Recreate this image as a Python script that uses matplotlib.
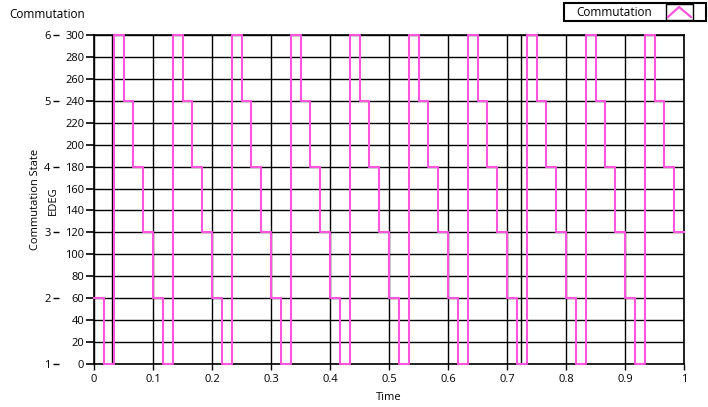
import matplotlib
matplotlib.use('Agg')
import matplotlib.pyplot as plt
from matplotlib.patches import Rectangle
from matplotlib.lines import Line2D
import numpy as np

# Commutation trace (EDEG), one value per step, dt = 1/60 s
dt = 1.0 / 60.0
edeg = [60, 0, 300, 240, 180, 120,
        60, 0, 300, 240, 180, 120,
        60, 0, 300, 240, 180, 120,
        60, 0, 300, 240, 180, 120,
        60, 0, 300, 240, 180, 120,
        60, 0, 300, 240, 180, 120,
        60, 0, 300, 240, 180, 120,
        60, 0, 300, 240, 180, 120,
        60, 0, 300, 240, 180, 120,
        60, 0, 300, 240, 180, 120]
# cursor lines seen on the graph
cursors = [0.03, 0.723]

x_ticks = [0, 0.1, 0.2, 0.3, 0.4, 0.5, 0.6, 0.7, 0.8, 0.9, 1]
x_labels = ['0', '0.1', '0.2', '0.3', '0.4', '0.5', '0.6', '0.7', '0.8', '0.9', '1']
edeg_ticks = list(range(0, 301, 20))
state_ticks = [1, 2, 3, 4, 5, 6]

TRACE = '#ff55dd'
FONT = 'Open Sans'

plt.rcParams['font.family'] = [FONT, 'DejaVu Sans']

fig = plt.figure(figsize=(7.08, 4.07), dpi=100)
W, H = 708.0, 407.0
ax = fig.add_axes([94 / W, 1 - 364 / H, (684 - 94) / W, (364 - 35) / H])

t = np.arange(len(edeg) + 1) * dt
y = edeg + [edeg[-1]]
ax.plot(t, y, drawstyle='steps-post', color=TRACE, lw=1.5, zorder=5,
        clip_on=False)

for c in cursors:
    ax.axvline(c, color='black', lw=1.0, zorder=2)

ax.set_xlim(0, 1)
ax.set_ylim(0, 300)
ax.set_xticks(x_ticks)
ax.set_xticklabels(x_labels)
ax.set_yticks(edeg_ticks)
ax.grid(True, color='black', lw=1.0)
ax.set_axisbelow(True)
for s in ax.spines.values():
    s.set_linewidth(1.2)
ax.tick_params(axis='y', length=6, width=1.2, labelsize=8, pad=1)
ax.tick_params(axis='x', length=4, width=1.0, labelsize=8, pad=3)

# secondary scale: commutation state
ax2 = ax.twinx()
ax2.set_ylim(1, 6)
ax2.set_yticks(state_ticks)
ax2.yaxis.tick_left()
ax2.spines['left'].set_position(('outward', 35 * 72 / 100))
for s in ax2.spines.values():
    s.set_visible(False)
ax2.tick_params(axis='y', length=4, width=1.0, labelsize=8, pad=2)

fig.text(9 / W, 1 - 15 / H, 'Commutation', fontsize=8.5, ha='left', va='center')
fig.text(35 / W, 1 - 199 / H, 'Commutation State', fontsize=8, rotation=90,
         ha='center', va='center')
fig.text(53 / W, 1 - 201 / H, 'EDEG', fontsize=8, rotation=90,
         ha='center', va='center')
fig.text(389 / W, 1 - 397 / H, 'Time', fontsize=8, ha='center', va='center')

# legend box
fig.patches.append(Rectangle((564 / W, 1 - 21 / H), (706 - 564) / W, 18 / H,
                             transform=fig.transFigure, fill=False,
                             edgecolor='black', lw=1.5))
fig.patches.append(Rectangle((666 / W, 1 - 20 / H), (693 - 666) / W, 16 / H,
                             transform=fig.transFigure, facecolor='white',
                             edgecolor='black', lw=1.0))
fig.text(614 / W, 1 - 12 / H, 'Commutation', fontsize=8.5, ha='center', va='center')
fig.lines.append(Line2D([668 / W, 679 / W, 691 / W],
                        [1 - 17 / H, 1 - 7 / H, 1 - 17 / H],
                        transform=fig.transFigure, color=TRACE, lw=1.6))

fig.savefig('out.png', dpi=100)
